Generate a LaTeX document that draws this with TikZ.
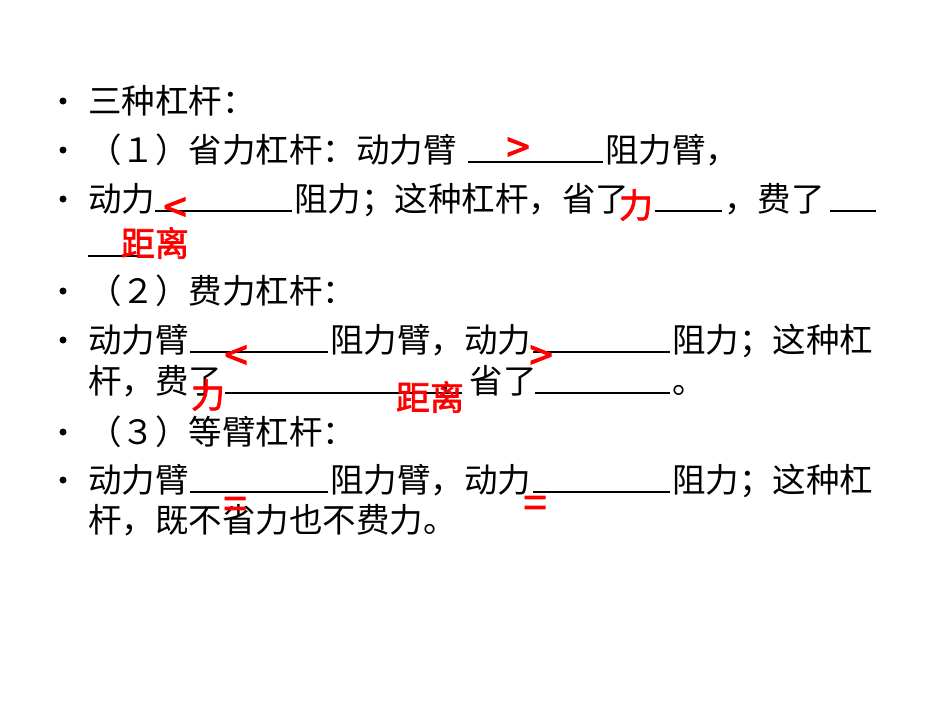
\documentclass[tikz,border=0pt]{standalone}
\usepackage{fontspec}
\newfontfamily\cjk{Noto Sans CJK SC}
\newfontfamily\cjkb[FakeBold=2]{Noto Sans CJK SC}
\begin{document}
\begin{tikzpicture}[x=1pt,y=-1pt,
  txt/.style={anchor=base west,inner sep=0pt,font=\cjk\fontsize{33.5}{34}\selectfont},
  ans/.style={anchor=center,inner sep=0pt,text=red,font=\cjkb\fontsize{34}{35}\selectfont},
  sym/.style={ans,font=\cjkb\fontsize{42}{43}\selectfont},
  blank/.style={line width=1.3pt},
  bul/.style={circle,fill=black,inner sep=0pt,minimum size=7pt}]
\useasboundingbox[fill=white] (0,0) rectangle (950,713);
% bullets
\foreach \y [count=\i] in {101,150,199,291,340,432,480} \node[bul] (b\i) at (63,\y) {};
% line 1
\node[txt] (t1) at (88,113) {三种杠杆：};
% line 2
\node[txt] (t2a) at (88,162) {（１）省力杠杆：动力臂};
\node[txt] (t2b) at (605,162) {阻力臂，};
\coordinate (u2a) at (468,162); \coordinate (u2b) at (603,162);
\draw[blank] (u2a) -- (u2b);
% line 3
\node[txt] (t3a) at (88,211) {动力};
\coordinate (u3a) at (155,211); \coordinate (u3b) at (292,211);
\draw[blank] (u3a) -- (u3b);
\node[txt] (t3b) at (294,211) {阻力；这种杠杆，省了};
\coordinate (u3c) at (655,211); \coordinate (u3d) at (722,211);
\draw[blank] (u3c) -- (u3d);
\node[txt] (t3c) at (724,211) {，费了};
\coordinate (u3e) at (830,211); \coordinate (u3f) at (876,211);
\draw[blank] (u3e) -- (u3f);
\coordinate (u4a) at (88,256); \coordinate (u4b) at (152,256);
\draw[blank] (u4a) -- (u4b);
% line 5
\node[txt] (t5) at (88,303) {（２）费力杠杆：};
% line 6
\node[txt] (t6a) at (88,352) {动力臂};
\coordinate (u6a) at (190,352); \coordinate (u6b) at (328,352);
\draw[blank] (u6a) -- (u6b);
\node[txt] (t6b) at (330,352) {阻力臂，动力};
\coordinate (u6c) at (533,352); \coordinate (u6d) at (670,352);
\draw[blank] (u6c) -- (u6d);
\node[txt] (t6c) at (672,352) {阻力；这种杠};
% line 7
\node[txt] (t7a) at (88,393) {杆，费了};
\coordinate (u7a) at (225,393); \coordinate (u7b) at (462,393);
\draw[blank] (u7a) -- (u7b);
\node[txt] (t7b) at (436,393) {，省了};
\coordinate (u7c) at (535,393); \coordinate (u7d) at (670,393);
\draw[blank] (u7c) -- (u7d);
\node[txt] (t7c) at (672,393) {。};
% line 8
\node[txt] (t8) at (88,444) {（３）等臂杠杆：};
% line 9
\node[txt] (t9a) at (88,492) {动力臂};
\coordinate (u9a) at (190,492); \coordinate (u9b) at (328,492);
\draw[blank] (u9a) -- (u9b);
\node[txt] (t9b) at (330,492) {阻力臂，动力};
\coordinate (u9c) at (533,492); \coordinate (u9d) at (670,492);
\draw[blank] (u9c) -- (u9d);
\node[txt] (t9c) at (672,492) {阻力；这种杠};
\node[txt] (t10) at (88,532) {杆，既不省力也不费力。};
% answers
\node[sym] (a1) at (518,150) {>};
\node[sym] (a2) at (175,210) {<};
\node[ans] (a3) at (636,205) {力};
\node[ans] (a4) at (155,243) {距离};
\node[sym] (a5) at (236,358) {<};
\node[ans] (a6) at (208,395) {力};
\node[ans] (a7) at (430,397) {距离};
\node[sym] (a8) at (541,358) {>};
\node[sym] (a9) at (235,508) {=};
\node[sym] (a10) at (535,507) {=};
\end{tikzpicture}
\end{document}
